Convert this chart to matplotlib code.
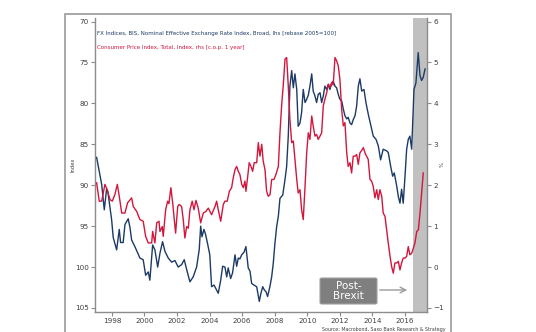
import matplotlib
matplotlib.use("Agg")
import matplotlib.pyplot as plt
from matplotlib.patches import Rectangle, FancyBboxPatch

# ---------------- datos ----------------
# FX Indices, BIS, NEER (eje izquierdo, invertido)
fx_years = [1997.06, 1997.26, 1997.37, 1997.53, 1997.67, 1997.75, 1997.98, 1998.08, 1998.29, 1998.39,
            1998.45, 1998.53, 1998.69, 1998.80, 1999.00, 1999.11, 1999.21, 1999.41, 1999.72, 1999.92,
            2000.07, 2000.23, 2000.33, 2000.50, 2000.64, 2000.81, 2000.95, 2001.11, 2001.26, 2001.46,
            2001.67, 2001.87, 2002.07, 2002.28, 2002.44, 2002.59, 2002.79, 2002.99, 2003.20, 2003.36,
            2003.45, 2003.53, 2003.65, 2003.75, 2003.89, 2004.01, 2004.12, 2004.27, 2004.43, 2004.53,
            2004.68, 2004.80, 2004.94, 2005.05, 2005.14, 2005.29, 2005.41, 2005.56, 2005.66, 2005.76,
            2005.86, 2005.97, 2006.11, 2006.23, 2006.37, 2006.48, 2006.58, 2006.72, 2006.89, 2007.05,
            2007.15, 2007.26, 2007.36, 2007.46, 2007.56, 2007.70, 2007.81, 2007.91, 2008.01, 2008.12,
            2008.22, 2008.32, 2008.49, 2008.63, 2008.73, 2008.83, 2008.93, 2009.04, 2009.14, 2009.24,
            2009.35, 2009.44, 2009.55, 2009.65, 2009.75, 2009.86, 2009.96, 2010.06, 2010.16, 2010.27,
            2010.36, 2010.47, 2010.57, 2010.67, 2010.78, 2010.88, 2010.98, 2011.08, 2011.19, 2011.29,
            2011.39, 2011.50, 2011.59, 2011.70, 2011.80, 2011.90, 2012.00, 2012.11, 2012.21, 2012.31,
            2012.42, 2012.51, 2012.62, 2012.72, 2012.82, 2012.93, 2013.03, 2013.13, 2013.23, 2013.34,
            2013.48, 2013.60, 2013.74, 2013.89, 2014.05, 2014.22, 2014.36, 2014.50, 2014.66, 2014.87,
            2014.97, 2015.12, 2015.24, 2015.34, 2015.49, 2015.59, 2015.69, 2015.79, 2015.89, 2016.00,
            2016.10, 2016.20, 2016.30, 2016.41, 2016.55, 2016.67, 2016.81, 2016.92, 2017.02, 2017.12,
            2017.23]
fx_values = [86.6, 88.7, 89.9, 93.0, 90.5, 90.8, 94.2, 96.4, 97.9, 96.3,
             95.4, 97.0, 97.0, 94.8, 94.1, 95.2, 96.7, 97.5, 98.9, 99.1,
             101.0, 100.6, 101.6, 97.3, 97.9, 100.0, 98.3, 96.9, 98.1, 98.9,
             99.4, 99.2, 100.0, 99.7, 99.1, 100.3, 101.8, 101.2, 100.0, 97.9,
             95.0, 96.3, 95.4, 96.0, 97.3, 98.5, 102.4, 102.2, 102.8, 103.2,
             101.6, 99.9, 100.0, 101.2, 100.1, 101.4, 100.7, 98.5, 99.9, 98.9,
             99.0, 98.5, 98.2, 97.5, 100.1, 100.5, 102.0, 102.2, 102.4, 104.2,
             103.2, 102.4, 102.8, 103.0, 103.6, 102.4, 101.2, 99.5, 97.1, 95.0,
             93.8, 91.6, 91.2, 89.3, 87.7, 84.0, 77.9, 76.0, 78.1, 76.4,
             78.3, 82.8, 82.4, 81.1, 78.3, 79.9, 79.5, 79.0, 77.9, 76.4,
             78.5, 79.1, 79.9, 78.9, 78.7, 79.9, 79.1, 77.9, 78.3, 77.7,
             78.3, 77.5, 77.3, 77.9, 78.1, 78.9, 79.5, 79.7, 80.7, 81.5,
             81.9, 81.7, 82.4, 82.6, 82.0, 81.5, 80.3, 77.9, 77.0, 78.5,
             78.3, 79.9, 81.3, 82.6, 84.0, 84.4, 85.2, 86.9, 85.6, 85.8,
             86.0, 87.7, 88.9, 88.5, 90.1, 91.4, 92.2, 90.5, 92.2, 88.9,
             85.6, 84.4, 84.0, 85.6, 78.3, 77.5, 73.8, 76.6, 77.2, 76.8,
             75.8]

# Consumer Price Index, c.o.p. 1 year (eje derecho, %)
cpi_years = [1997.06, 1997.22, 1997.37, 1997.57, 1997.71, 1997.88, 1998.02, 1998.18, 1998.33, 1998.45,
             1998.60, 1998.80, 1998.96, 1999.21, 1999.31, 1999.52, 1999.72, 1999.92, 2000.07, 2000.23,
             2000.44, 2000.50, 2000.64, 2000.75, 2000.89, 2000.95, 2001.09, 2001.15, 2001.30, 2001.42,
             2001.50, 2001.62, 2001.73, 2001.83, 2001.91, 2002.04, 2002.13, 2002.28, 2002.38, 2002.48,
             2002.59, 2002.69, 2002.79, 2002.93, 2003.04, 2003.16, 2003.30, 2003.45, 2003.61, 2003.77,
             2003.92, 2004.12, 2004.33, 2004.43, 2004.53, 2004.68, 2004.84, 2004.94, 2005.08, 2005.21,
             2005.35, 2005.45, 2005.56, 2005.66, 2005.76, 2005.86, 2005.97, 2006.07, 2006.17, 2006.23,
             2006.34, 2006.43, 2006.54, 2006.64, 2006.74, 2006.89, 2006.99, 2007.09, 2007.20, 2007.29,
             2007.40, 2007.50, 2007.60, 2007.71, 2007.81, 2007.95, 2008.07, 2008.22, 2008.32, 2008.42,
             2008.52, 2008.63, 2008.73, 2008.83, 2008.93, 2009.04, 2009.14, 2009.24, 2009.35, 2009.44,
             2009.55, 2009.65, 2009.75, 2009.86, 2009.96, 2010.06, 2010.16, 2010.27, 2010.36, 2010.47,
             2010.57, 2010.67, 2010.78, 2010.88, 2010.98, 2011.08, 2011.19, 2011.29, 2011.39, 2011.50,
             2011.59, 2011.70, 2011.80, 2011.90, 2012.00, 2012.11, 2012.21, 2012.31, 2012.42, 2012.51,
             2012.62, 2012.72, 2012.82, 2012.93, 2013.03, 2013.13, 2013.23, 2013.34, 2013.44, 2013.54,
             2013.74, 2013.85, 2013.95, 2014.05, 2014.15, 2014.26, 2014.36, 2014.46, 2014.57, 2014.66,
             2014.77, 2014.87, 2014.97, 2015.08, 2015.18, 2015.28, 2015.38, 2015.49, 2015.59, 2015.69,
             2015.79, 2015.89, 2016.00, 2016.10, 2016.20, 2016.30, 2016.41, 2016.51, 2016.61, 2016.72,
             2016.82, 2016.92, 2017.02, 2017.12]
cpi_values = [2.06, 1.61, 1.61, 2.02, 1.89, 1.65, 1.61, 1.77, 2.02, 1.73,
              1.32, 1.32, 1.57, 1.69, 1.48, 1.36, 1.16, 1.12, 0.75, 0.59,
              0.59, 0.87, 0.59, 1.08, 1.12, 0.87, 0.99, 0.75, 1.40, 1.61,
              1.55, 1.94, 1.57, 1.16, 0.83, 1.48, 1.53, 1.48, 1.16, 0.71,
              0.99, 0.95, 1.40, 1.61, 1.40, 1.63, 1.44, 1.08, 1.32, 1.36,
              1.44, 1.28, 1.48, 1.61, 1.40, 1.12, 1.53, 1.61, 1.61, 1.85,
              1.94, 2.18, 2.38, 2.46, 2.34, 2.26, 2.02, 1.94, 2.10, 1.85,
              2.22, 2.55, 2.46, 2.34, 2.55, 2.55, 3.04, 2.71, 3.00, 2.59,
              2.38, 1.85, 1.73, 1.77, 2.14, 2.14, 2.26, 2.46, 3.28, 3.94,
              4.43, 5.08, 5.12, 4.43, 3.61, 3.04, 3.08, 2.63, 2.14, 1.81,
              1.89, 1.40, 1.16, 1.97, 2.79, 3.28, 3.12, 3.69, 3.45, 3.20,
              3.24, 3.12, 3.20, 3.28, 3.94, 4.10, 4.26, 4.47, 4.39, 4.51,
              4.45, 5.12, 5.04, 4.92, 4.59, 3.85, 3.45, 3.53, 2.79, 2.46,
              2.55, 2.30, 2.71, 2.71, 2.75, 2.51, 2.79, 2.85, 2.92, 2.79,
              2.63, 2.14, 2.10, 1.97, 1.69, 1.89, 1.65, 1.89, 1.73, 1.32,
              1.24, 0.91, 0.59, 0.26, 0.01, -0.15, 0.10, 0.10, 0.14, -0.07,
              0.10, 0.22, 0.22, 0.26, 0.50, 0.30, 0.34, 0.46, 0.59, 0.87,
              0.91, 1.32, 1.81, 2.30]

left_ticks = [70, 75, 80, 85, 90, 95, 100, 105]
right_ticks = [-1, 0, 1, 2, 3, 4, 5, 6]
year_ticks = [1998, 2000, 2002, 2004, 2006, 2008, 2010, 2012, 2014, 2016]
brexit_start = 2016.49

# ---------------- figura ----------------
W, H = 536, 332
fig = plt.figure(figsize=(W / 100, H / 100), dpi=100)

navy = "#1c3a66"
red = "#d2163c"
grey_txt = "#404040"
spine_col = "#8c8c8c"

# marco exterior
fig.patches.append(Rectangle((65 / W, -0.05), (451 - 65) / W, 1 - 14 / H + 0.05,
                             transform=fig.transFigure, fill=False,
                             edgecolor="#9a9a9a", linewidth=1.2))

ax = fig.add_axes([95 / W, 1 - 312 / H, (427 - 95) / W, (312 - 18) / H])
ax2 = ax.twinx()

ax.axvspan(brexit_start, 2017.35, color="#c0c0c0", lw=0, zorder=0)

ax.plot(fx_years, fx_values, color=navy, lw=1.0, zorder=3)
ax2.plot(cpi_years, cpi_values, color=red, lw=1.0, zorder=3)

ax.set_xlim(1996.96, 2017.35)
ax.set_ylim(105.49, 69.57)
ax2.set_ylim(-1.098, 6.086)

ax.set_yticks(left_ticks)
ax2.set_yticks(right_ticks)
ax.set_xticks(year_ticks)

for a in (ax, ax2):
    for s in a.spines.values():
        s.set_color(spine_col)
        s.set_linewidth(1.0)
    a.spines["top"].set_visible(False)
    a.tick_params(colors=spine_col, labelcolor=grey_txt, labelsize=5.2, length=3, width=0.8, pad=1.5)
ax.spines["right"].set_visible(False)
ax2.spines["left"].set_visible(False)
ax2.spines["bottom"].set_visible(False)

fig.text(73 / W, 1 - 165 / H, "Index", rotation=90, fontsize=3.8, color=grey_txt,
         ha="center", va="center")
fig.text(442 / W, 1 - 165 / H, "%", rotation=90, fontsize=3.8, color=grey_txt,
         ha="center", va="center")

fig.text(97 / W, 1 - 34 / H,
         "FX Indices, BIS, Nominal Effective Exchange Rate Index, Broad, lhs [rebase 2005=100]",
         fontsize=3.95, color=navy, ha="left", va="center")
fig.text(97 / W, 1 - 47 / H, "Consumer Price Index, Total, Index, rhs [c.o.p. 1 year]",
         fontsize=3.95, color=red, ha="left", va="center")

# caja Post-Brexit con flecha
fig.patches.append(FancyBboxPatch((320 / W, 1 - 304 / H), 57 / W, 26 / H,
                                  boxstyle="round,pad=0,rounding_size=0.004",
                                  transform=fig.transFigure, facecolor="#7f7f7f",
                                  edgecolor="#a0a0a0", linewidth=0.8, zorder=5))
fig.text(348.5 / W, 1 - 291 / H, "Post-\nBrexit", fontsize=7.5, color="white",
         ha="center", va="center", linespacing=1.1, zorder=6)
ax.annotate("", xy=(410 / W, 1 - 290 / H), xytext=(377 / W, 1 - 290 / H),
            xycoords="figure fraction", textcoords="figure fraction",
            arrowprops=dict(arrowstyle="->", color="#9a9a9a", lw=1.0))

fig.text(445 / W, 2 / H, "Source: Macrobond, Saxo Bank Research & Strategy",
         fontsize=3.4, color=grey_txt, ha="right", va="center")

plt.savefig("out.png", dpi=100)
